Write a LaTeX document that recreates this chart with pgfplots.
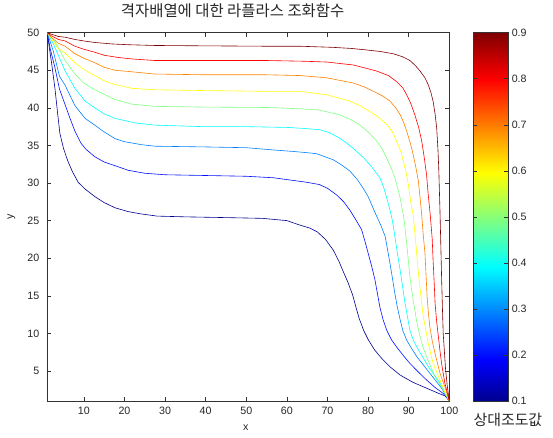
\documentclass[border=0pt]{standalone}
\usepackage{fontspec}
\setmainfont{Liberation Sans}
\newfontfamily\cjk{Noto Sans CJK KR}
\usepackage{pgfplots}
\pgfplotsset{compat=1.18}
\pgfkeys{/pgf/number format/assume math mode=true}
\definecolor{c1}{rgb}{0,0,0.56}
\definecolor{c2}{rgb}{0,0.06,1}
\definecolor{c3}{rgb}{0,0.5,1}
\definecolor{c4}{rgb}{0,1,1}
\definecolor{c5}{rgb}{0.5,1,0.5}
\definecolor{c6}{rgb}{1,1,0}
\definecolor{c7}{rgb}{1,0.5,0}
\definecolor{c8}{rgb}{1,0,0}
\definecolor{c9}{rgb}{0.5,0,0}
\pgfplotsset{colormap={mjet}{rgb(0cm)=(0,0,0.5625) rgb(7cm)=(0,0,1) rgb(23cm)=(0,1,1) rgb(39cm)=(1,1,0) rgb(55cm)=(1,0,0) rgb(63cm)=(0.5,0,0)}}
\begin{document}
\begin{tikzpicture}
\begin{axis}[
  at={(0,0)}, anchor=south west,
  scale only axis, width=402bp, height=368.3bp,
  xmin=1, xmax=100, ymin=1, ymax=50,
  xtick={10,20,...,100}, ytick={5,10,...,50},
  tick align=inside, major tick length=4bp,
  axis line style={black!80, line width=0.5bp},
  every tick/.style={black!80, line width=0.5bp},
  tick label style={font=\fontsize{10.7}{12}\selectfont, text=black!85},
  xticklabel style={yshift=-3bp},
  yticklabel style={xshift=-4.5bp},
  xlabel={x}, ylabel={y},
  xlabel style={at={(axis description cs:0.494,-0.0733)}, anchor=center, font=\fontsize{10.7}{12}\selectfont, text=black!85},
  ylabel style={at={(axis description cs:-0.089,0.5)}, anchor=center, font=\fontsize{10.7}{12}\selectfont, text=black!85},
  title={\cjk 격자배열에 대한 라플라스 조화함수},
  title style={at={(axis description cs:0.461,1.0445)}, anchor=center, font=\fontsize{15.5}{18}\selectfont, text=black!85},
  colormap name=mjet,
  point meta min=0.1, point meta max=0.9,
  colorbar,
  colorbar/width=35bp,
  colorbar shift/.style={xshift=24bp},
  colorbar style={
    at={(parent axis.north east)}, anchor=north west,
    scale only axis, height=368.3bp,
    ytick={0.1,0.2,0.3,0.4,0.5,0.6,0.7,0.8,0.9},
    major tick length=4bp,
    axis line style={black!80, line width=0.5bp},
    every tick/.style={black!80, line width=0.5bp},
    yticklabel style={/pgf/number format/.cd, fixed, fixed zerofill, precision=1, /tikz/.cd, font=\fontsize{10.7}{12}\selectfont, text=black!85},
  },
]
\addplot[c1, line width=0.6bp] coordinates {(1,50) (1.5,48) (2.1,45.8) (2.9,42.5) (3.5,39.5) (4.1,36.6) (5.0,34.6) (6,33.0) (7.2,31.5) (8.6,30.1) (10.3,29.2) (12.7,28.2) (15,27.4) (17.7,26.7) (20.9,26.2) (24,25.9) (28,25.6) (35,25.5) (45,25.4) (54,25.3) (60,25.0) (63.2,24.4) (65.7,24.0) (67.5,23.5) (69.5,22.5) (71.4,21.1) (72.8,19.6) (73.9,18.2) (75.1,16.7) (76.2,15.1) (77.0,13.5) (77.8,12.0) (78.9,10.4) (80.1,9.1) (81.6,7.8) (83.3,6.7) (85.5,5.5) (87.9,4.45) (91,3.5) (94,2.8) (97,2.1) (99.3,1.6) (100,1)};
\addplot[c2, line width=0.6bp] coordinates {(1,50) (1.7,47.9) (2.9,45.3) (4,42.5) (5.4,40.4) (6.6,38.6) (7.8,36.9) (9.3,35.3) (10.5,34.5) (12.7,33.5) (15,32.8) (17.7,32.3) (20.9,31.7) (25,31.3) (30,31.1) (40,31.0) (50,30.9) (56.7,30.7) (60.8,30.4) (64.9,30.1) (68,29.8) (70,29.3) (72.3,28.4) (74,27.5) (75.5,26.4) (77,25.1) (78.4,23.8) (79.2,22.3) (80,20.7) (80.9,18.9) (81.7,17.1) (82.3,15.3) (82.9,13.5) (83.7,11.8) (84.6,10.4) (85.7,9.2) (87,8.2) (88.6,7.1) (90.3,6.0) (92.3,4.9) (94.4,3.8) (96.5,2.8) (98.5,2.0) (100,1)};
\addplot[c3, line width=0.6bp] coordinates {(1,50) (2.5,47.5) (4,44.2) (5.4,43.0) (7.8,40.3) (10.3,38.6) (12.7,37.7) (15,36.8) (17.7,35.9) (20,35.5) (24.2,35.1) (27.5,34.9) (40,34.8) (50,34.7) (56.7,34.4) (61.6,34.2) (65.7,34.0) (67.3,33.9) (71.4,33.1) (73.5,32.4) (75.5,31.6) (77.3,30.5) (78.8,29.3) (80,28.2) (80.9,27.1) (81.6,26.2) (82.1,25.6) (83.2,24.3) (84.2,22.9) (84.8,21.1) (85.4,19.3) (86.0,17.3) (86.6,15.3) (87.2,13.5) (87.9,11.8) (88.6,10.3) (89.5,9.1) (90.7,8.0) (92,6.9) (95.2,4.7) (98.1,2.7) (100,1)};
\addplot[c4, line width=0.6bp] coordinates {(1,50) (2.5,48.5) (5.4,44.9) (7.8,42.6) (10.3,40.9) (12.7,40.0) (15,39.2) (17.7,38.6) (22.6,38.0) (27.5,37.7) (39.4,37.5) (50,37.5) (59.9,37.4) (63.2,37.3) (68,37.1) (70.5,36.7) (72.9,36.0) (75,35.2) (77.2,34.2) (79,33.3) (80.5,32.4) (81.8,31.5) (82.9,30.7) (83.8,29.5) (84.6,28.0) (85.2,26.8) (85.8,25.5) (86.2,24.3) (86.6,22.9) (87.2,20.7) (87.9,18.4) (88.5,16.2) (89.1,14.0) (89.7,12.2) (90.3,10.4) (91.2,9) (92.4,7.8) (94.8,5.6) (97.7,3.4) (100,1)};
\addplot[c5, line width=0.6bp] coordinates {(1,50) (2.9,48.8) (5.4,46.3) (7.8,44.5) (10,43.3) (12.7,42.4) (15,41.8) (17.7,41.1) (21.8,40.5) (27.5,40.2) (40,40.1) (55,40.05) (58.3,40.0) (65.7,39.8) (68,39.7) (72.9,39.1) (75.5,38.5) (77.8,37.8) (80,36.8) (82.1,35.6) (83.5,34.5) (84.6,33.3) (85.7,32) (86.6,30.7) (87.3,29.3) (87.9,28.0) (88.4,26.5) (88.7,25.8) (89.1,24) (89.5,22.0) (89.9,19.8) (90.3,17.5) (90.8,15.5) (91.5,13.1) (92.1,11.2) (92.8,9.6) (93.5,8.2) (94.4,6.9) (96.5,4.2) (98.5,2.5) (100,1)};
\addplot[c6, line width=0.6bp] coordinates {(1,50) (2,49.2) (3.7,47.9) (5.4,47.3) (7.8,46.0) (10,45.1) (12.7,44.3) (15,43.6) (17.7,43.1) (21.8,42.6) (27.5,42.4) (40,42.3) (55,42.2) (63.2,42.2) (69.8,41.75) (75.5,40.9) (78,40.3) (80.5,39.5) (82.7,38.7) (84.6,37.8) (86,36.8) (87.0,35.6) (88,34.3) (88.7,32.9) (89.4,31.3) (89.9,29.8) (90.5,27.5) (91.1,25.8) (91.5,23.5) (91.9,21.1) (92.3,18.5) (92.8,16.0) (93.2,14) (93.6,12.2) (94.2,10.5) (94.8,8.7) (96.0,6.0) (97.7,3.8) (98.9,2.2) (100,1)};
\addplot[c7, line width=0.6bp] coordinates {(1,50) (2,49.4) (3.7,48.6) (5.4,48.2) (7.8,47.2) (10,46.6) (12.7,46.0) (15,45.4) (17.7,45.0) (21.8,44.8) (27.5,44.5) (40,44.4) (55,44.4) (63.2,44.3) (69.8,44.0) (76.4,43.3) (79,42.8) (81.3,42.2) (83.5,41.6) (85.4,40.9) (86.8,40) (87.9,39.1) (88.8,38) (89.5,36.9) (90.4,35.3) (91.1,33.8) (91.8,32) (92.4,30.2) (92.9,27.5) (93.2,25.8) (93.6,23) (94.0,20.7) (94.3,17.5) (94.5,15.2) (94.8,13) (95.2,10.9) (95.8,9) (96.5,7.3) (97.7,4.7) (98.9,2.9) (100,1)};
\addplot[c8, line width=0.6bp] coordinates {(1,50) (2,49.6) (3.7,49.1) (5.4,48.9) (7.8,48.2) (10,47.8) (12.7,47.4) (15,47.0) (18.5,46.7) (22,46.5) (27.5,46.3) (40,46.3) (55,46.3) (64.4,46.2) (69.8,46.1) (76.4,45.7) (80,45.2) (82.1,44.9) (85,44.3) (87,43.5) (88.5,42.7) (89.5,41.75) (90.5,40.6) (91.5,39.1) (92.5,37.3) (93.2,35.6) (93.8,33.5) (94.4,31.1) (94.8,28.5) (95.3,25.8) (95.8,22.5) (96.0,19.8) (96.3,16.5) (96.5,14.0) (96.9,11.5) (97.3,9.6) (97.7,7.7) (98.1,6.0) (98.9,3.4) (100,1)};
\addplot[c9, line width=0.6bp] coordinates {(1,50) (2,49.8) (3.7,49.5) (5.4,49.4) (7.8,49.1) (10,48.9) (12.7,48.7) (17,48.5) (21,48.4) (27.5,48.3) (40,48.25) (55,48.2) (63.2,48.2) (71.4,48.05) (76,47.9) (79.7,47.7) (83,47.5) (86.2,47.2) (88.5,46.8) (90.3,46.3) (91.7,45.6) (92.8,44.9) (94,44) (94.8,43.1) (95.5,42) (96,40.9) (96.5,39.2) (96.9,37.3) (97.2,34.5) (97.4,32) (97.7,26.4) (97.9,22) (98.1,17.5) (98.3,13.5) (98.5,10) (98.8,7.5) (99.1,5.1) (99.5,3) (100,1)};
\end{axis}
\node[anchor=west, font=\fontsize{15}{18}\selectfont, text=black!85, inner sep=0pt] at (426bp,-19bp) {\cjk 상대조도값};
\pgfresetboundingbox
\path[use as bounding box] (-47.3bp,-37bp) rectangle (505.7bp,401bp);
\end{tikzpicture}
\end{document}
